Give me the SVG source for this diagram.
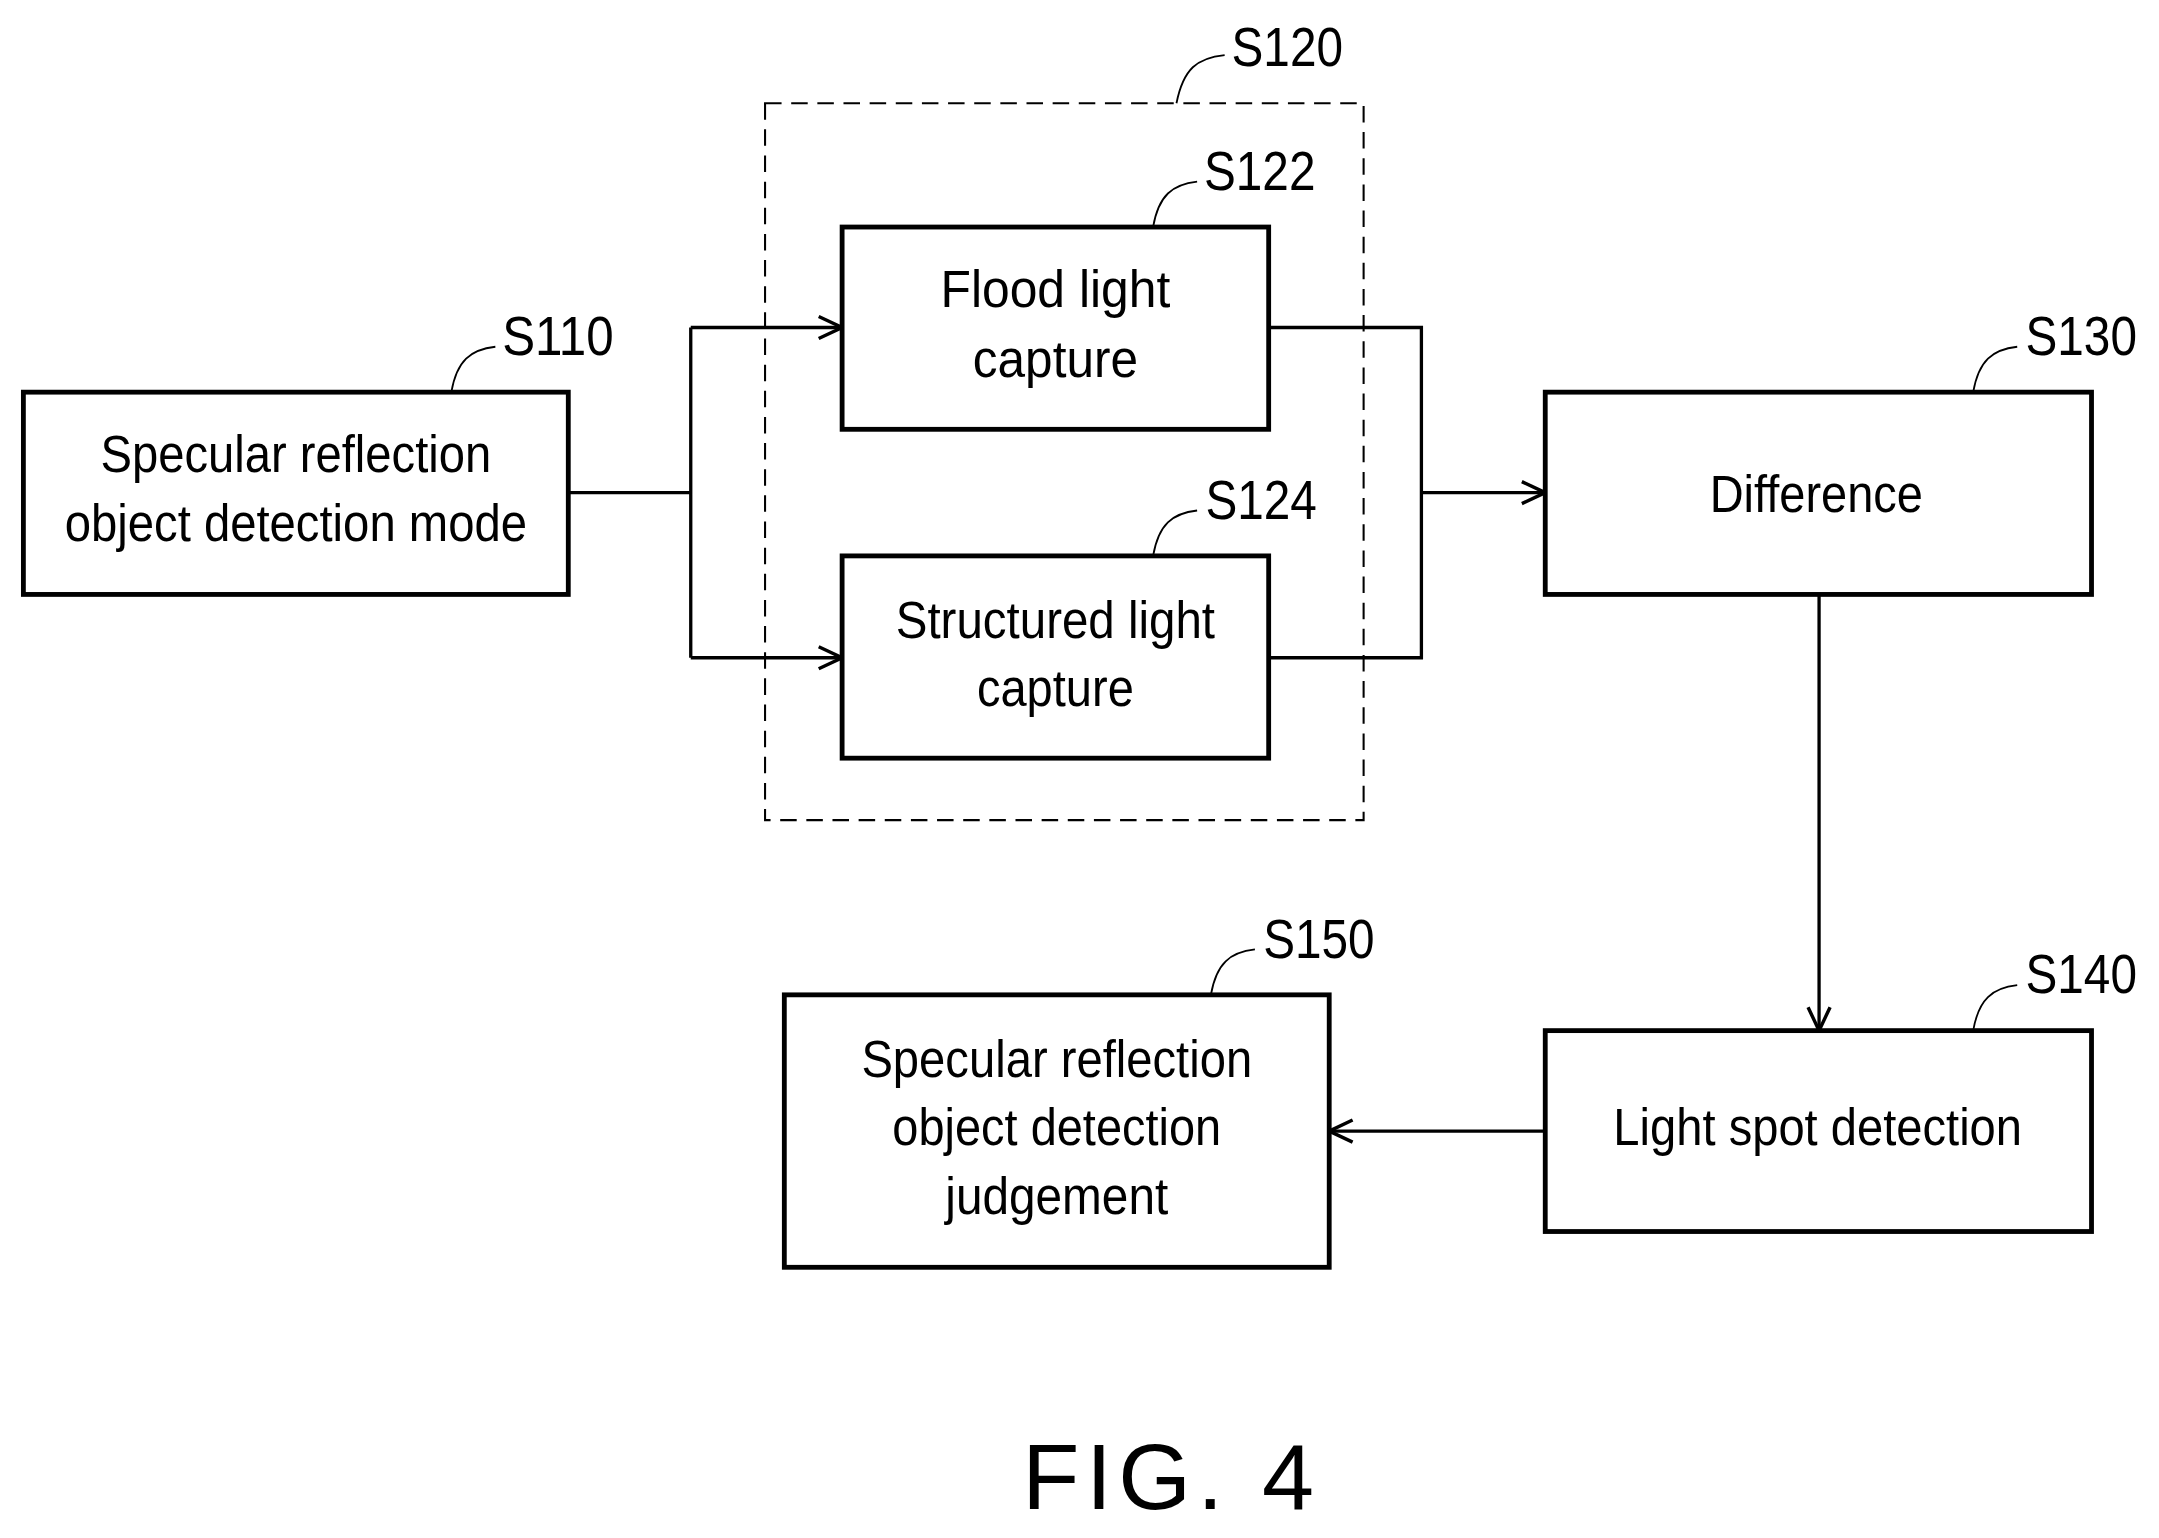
<svg xmlns="http://www.w3.org/2000/svg" width="2159" height="1538" viewBox="0 0 2159 1538">
<defs>
<marker id="a" viewBox="0 0 20 20" refX="19" refY="10" markerWidth="20" markerHeight="20" markerUnits="userSpaceOnUse" orient="auto"><path d="M2,2 L19,10 L2,18" fill="none" stroke="#000" stroke-width="2.5"/></marker>
</defs>
<style>
.b{fill:#fff;stroke:#000;stroke-width:3.5}
.t{font-family:"Liberation Sans",Arial,sans-serif;font-size:37px;text-anchor:middle}
.l{font-family:"Liberation Sans",Arial,sans-serif;font-size:41px}
.c{fill:none;stroke:#000;stroke-width:2.4}
.ld{fill:none;stroke:#000;stroke-width:1.3}
</style>
<rect width="2159" height="1538" fill="#fff"/>
<g transform="scale(1.376)">
<g id="S120"><rect x="556" y="75" width="435" height="521" fill="none" stroke="#000" stroke-width="1.5" stroke-dasharray="12,7"/>
<path class="ld" d="M855,75 C860,50 870,42 890,40"/><text class="l" x="895" y="48" textLength="81" lengthAdjust="spacingAndGlyphs">S120</text></g>
<g id="connectors">
<path class="c" d="M413,358 H502 M502,238 V478"/>
<path class="c" d="M502,238 H612" marker-end="url(#a)"/>
<path class="c" d="M502,478 H612" marker-end="url(#a)"/>
<path class="c" d="M922,238 H1033 V478 H922"/>
<path class="c" d="M1033,358 H1123" marker-end="url(#a)"/>
<path class="c" d="M1322,432 V749" marker-end="url(#a)"/>
<path class="c" d="M1123,822 H966" marker-end="url(#a)"/>
</g>
<g id="S110"><rect class="b" x="17" y="285" width="396" height="147"/>
<text class="t" x="215" y="343" textLength="284" lengthAdjust="spacingAndGlyphs">Specular reflection</text>
<text class="t" x="215" y="393" textLength="336" lengthAdjust="spacingAndGlyphs">object detection mode</text>
<path class="ld" d="M328,285 C332,262 342,254 360,252"/><text class="l" x="365" y="258" textLength="81" lengthAdjust="spacingAndGlyphs">S110</text></g>
<g id="S122"><rect class="b" x="612" y="165" width="310" height="147"/>
<text class="t" x="767" y="223" textLength="167" lengthAdjust="spacingAndGlyphs">Flood light</text>
<text class="t" x="767" y="274" textLength="120" lengthAdjust="spacingAndGlyphs">capture</text>
<path class="ld" d="M838,165 C842,142 852,134 870,132"/><text class="l" x="875" y="138" textLength="81" lengthAdjust="spacingAndGlyphs">S122</text></g>
<g id="S124"><rect class="b" x="612" y="404" width="310" height="147"/>
<text class="t" x="767" y="464" textLength="232" lengthAdjust="spacingAndGlyphs">Structured light</text>
<text class="t" x="767" y="513" textLength="114" lengthAdjust="spacingAndGlyphs">capture</text>
<path class="ld" d="M838,404 C842,381 852,373 870,371"/><text class="l" x="876" y="377" textLength="81" lengthAdjust="spacingAndGlyphs">S124</text></g>
<g id="S130"><rect class="b" x="1123" y="285" width="397" height="147"/>
<text class="t" x="1320" y="372" textLength="155" lengthAdjust="spacingAndGlyphs">Difference</text>
<path class="ld" d="M1434,285 C1438,262 1448,254 1466,252"/><text class="l" x="1472" y="258" textLength="81" lengthAdjust="spacingAndGlyphs">S130</text></g>
<g id="S140"><rect class="b" x="1123" y="749" width="397" height="146"/>
<text class="t" x="1321" y="832" textLength="297" lengthAdjust="spacingAndGlyphs">Light spot detection</text>
<path class="ld" d="M1434,749 C1438,726 1448,718 1466,716"/><text class="l" x="1472" y="722" textLength="81" lengthAdjust="spacingAndGlyphs">S140</text></g>
<g id="S150"><rect class="b" x="570" y="723" width="396" height="198"/>
<text class="t" x="768" y="783" textLength="284" lengthAdjust="spacingAndGlyphs">Specular reflection</text>
<text class="t" x="768" y="832" textLength="239" lengthAdjust="spacingAndGlyphs">object detection</text>
<text class="t" x="768" y="882" textLength="162" lengthAdjust="spacingAndGlyphs">judgement</text>
<path class="ld" d="M880,723 C884,700 894,692 912,690"/><text class="l" x="918" y="696" textLength="81" lengthAdjust="spacingAndGlyphs">S150</text></g>
<text x="849" y="1097" font-family="Liberation Sans,Arial,sans-serif" font-size="68" text-anchor="middle" textLength="212" lengthAdjust="spacing">FIG. 4</text>
</g>
</svg>
